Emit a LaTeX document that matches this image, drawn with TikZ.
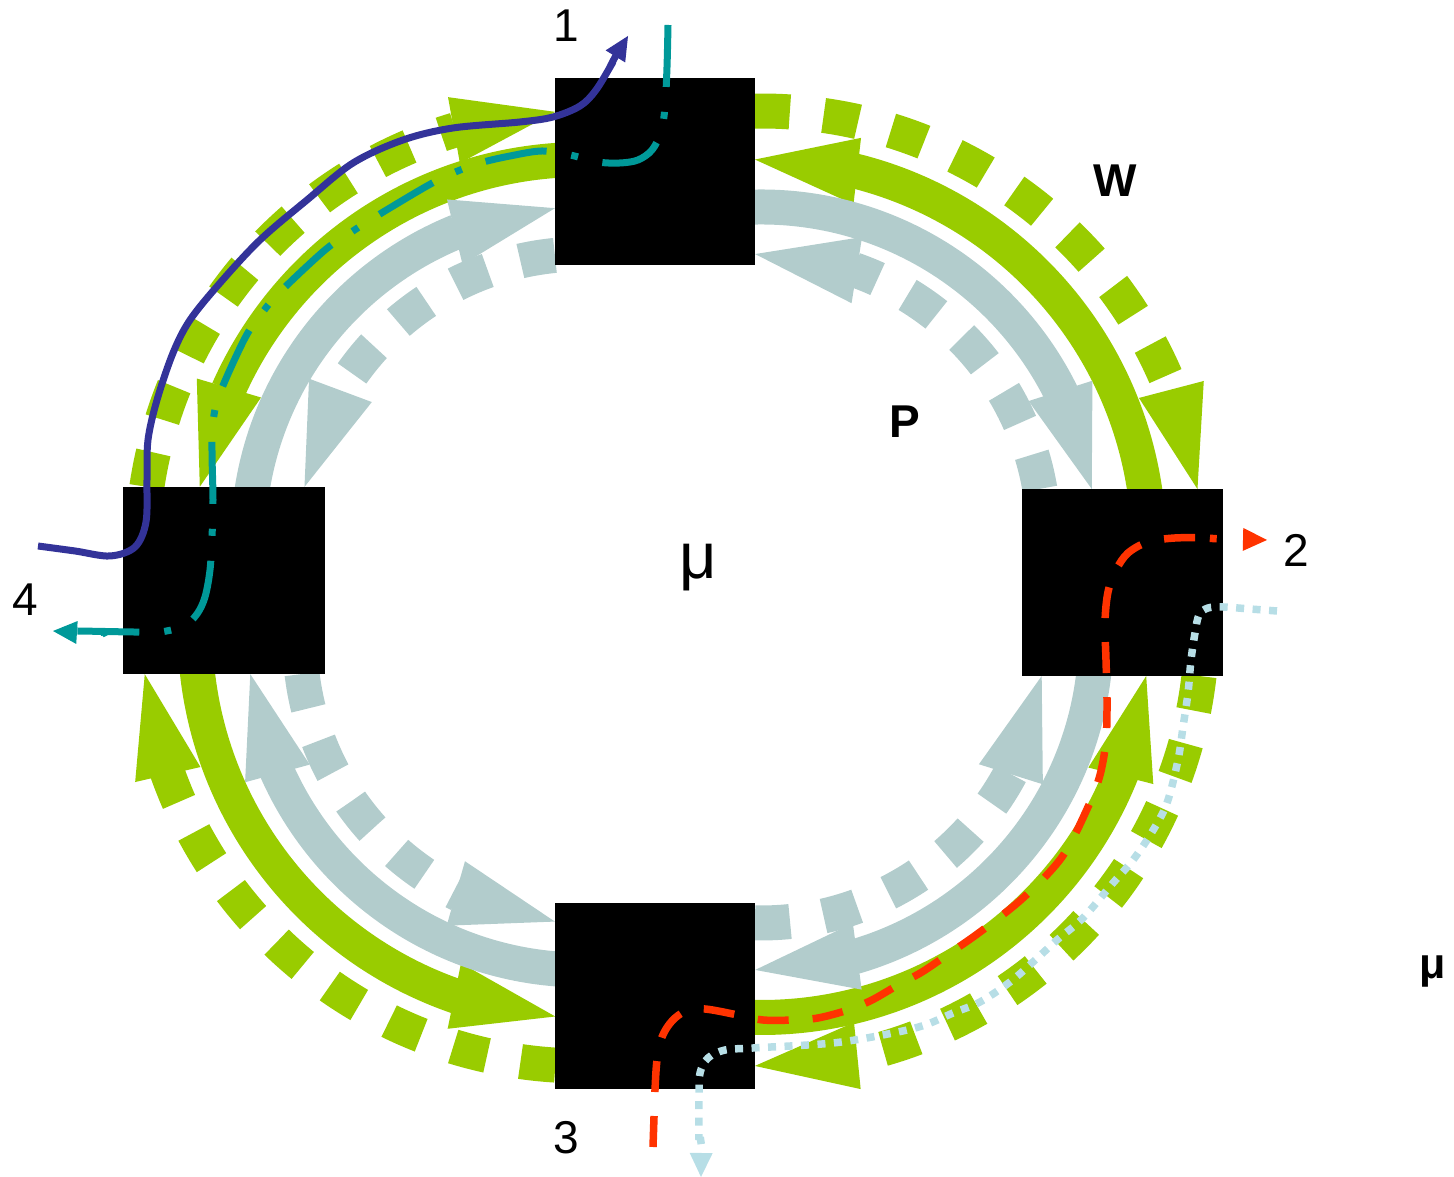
\documentclass[tikz,border=0pt]{standalone}
\usepackage{fontspec}
\setmainfont{Liberation Sans}
\usetikzlibrary{arrows.meta,bending,calc}
\definecolor{gcol}{RGB}{153,204,0}
\definecolor{pcol}{RGB}{178,204,204}
\definecolor{tealc}{RGB}{0,153,153}
\definecolor{navyc}{RGB}{51,51,153}
\definecolor{redc}{RGB}{255,51,0}
\definecolor{lbluec}{RGB}{183,222,230}
\newcommand\ringarc[5]{\draw[#1] ($(#2)+(#3:#5)$) arc[start angle=#3,end angle=#4,radius=#5];}
\begin{document}
\begin{tikzpicture}[x=1pt,y=1pt,
  bigtip/.style={-{Triangle[length=103pt,width=67pt,line width=0pt,flex]}},
  smalltip/.style={-{Triangle[length=24pt,width=23pt,line width=0pt]}},
  band/.style={line width=35pt},
  dotband/.style={line width=35pt,dash pattern=on 35pt off 34pt},
  gsol/.style={band,draw=gcol,bigtip},
  gdot/.style={dotband,draw=gcol,bigtip},
  psol/.style={band,draw=pcol,bigtip},
  pdot/.style={dotband,draw=pcol,bigtip},
  box/.style={fill=black,draw=none,inner sep=0pt},
  navyl/.style={draw=navyc,line width=7pt,smalltip},
  teall/.style={draw=tealc,line width=7pt,dash pattern=on 62pt off 25pt on 7pt off 25pt,smalltip},
  redl/.style={draw=redc,line width=7.5pt,dash pattern=on 31pt off 24pt,smalltip},
  lbluel/.style={draw=lbluec,line width=7.5pt,dash pattern=on 8pt off 8.5pt,smalltip},
  lbl/.style={font=\fontsize{46}{50}\selectfont,inner sep=0pt},
  lblb/.style={font=\bfseries\fontsize{46}{50}\selectfont,inner sep=0pt}]
\useasboundingbox (0,0) rectangle (1454,1177);
% top-right quadrant
\ringarc{gdot}{761,625}{90.8}{8.2}{441}
\ringarc{gsol}{761,629.5}{5}{90.9}{388}
\ringarc{psol}{761,635}{93}{9.1}{335}
\ringarc{pdot}{761,640}{9.8}{91.2}{283}
% top-left quadrant
\ringarc{gdot}{583,625}{171.5}{93.6}{441}
\ringarc{gsol}{583,629.5}{92}{171.0}{388}
\ringarc{psol}{583,635}{173}{94.8}{335}
\ringarc{pdot}{583,640}{95.7}{169.8}{283}
% bottom-right quadrant
\ringarc{gdot}{761,552}{-6.64}{-90.8}{441}
\ringarc{gsol}{761,547.5}{-93}{-6.88}{388}
\ringarc{psol}{761,542}{-4}{-91}{335}
\ringarc{pdot}{761,537}{-91.2}{-7.31}{283}
% bottom-left quadrant
\ringarc{gdot}{583,552}{266.4}{186.4}{441}
\ringarc{gsol}{583,547.5}{184}{265.9}{388}
\ringarc{psol}{583,542}{268}{186.7}{335}
\ringarc{pdot}{583,537}{186.9}{264.3}{283}
% boxes
\node[box,minimum width=200pt,minimum height=187pt] (n1) at (655,1005.5) {};
\node[box,minimum width=201pt,minimum height=187pt] (n2) at (1122.5,594.5) {};
\node[box,minimum width=200pt,minimum height=186pt] (n3) at (655,181) {};
\node[box,minimum width=202pt,minimum height=187pt] (n4) at (224,596.5) {};
% navy path
\coordinate (navyS) at (38,631);
\coordinate (navyE) at (628,1141);
\draw[navyl] plot[smooth,tension=0.55] coordinates {(navyS) (75,626) (110,621) (135,630) (146,655) (147,697) (148,737) (157,777) (173,824) (190,857) (220,894) (260,937) (307,977) (353,1014) (403,1037) (453,1049) (520,1055) (553,1060) (580,1071) (596,1087) (613,1115) (navyE)};
% teal path
\coordinate (tealS) at (668,1152);
\coordinate (tealE) at (53,546);
\draw[teall] plot[smooth,tension=0.55] coordinates {(tealS) (667,1110) (665,1070) (661,1045) (652,1027) (638,1017) (620,1014) (598,1015) (570,1022) (542,1026) (510,1021) (480,1014) (453,1004) (427,991) (375,960) (350,944) (325,927) (280,885) (262,864) (245,839) (220,784) (213,755) (212,725) (213,677) (212,640) (210,607) (205,580) (197,563) (184,551) (160,545) (133,545) (77,546) (tealE)};
% red path
\coordinate (redS) at (653,30);
\coordinate (redE) at (1267,637);
\draw[redl] plot[smooth,tension=0.55] coordinates {(redS) (654,60) (655,87) (657,117) (662,140) (672,156) (686,166) (705,168) (738,162) (763,157) (793,157) (818,159) (848,167) (872,177) (898,192) (922,205) (947,222) (980,245) (1023,279) (1062,320) (1088,370) (1100,402) (1106,437) (1107,477) (1106,517) (1105,555) (1108,585) (1116,607) (1128,624) (1148,635) (1175,639) (1212,639) (redE)};
% light blue path
\coordinate (lbS) at (1277,566);
\coordinate (lbE) at (701,0);
\draw[lbluel] plot[smooth,tension=0.55] coordinates {(lbS) (1250,568) (1223,570) (1208,569) (1199,562) (1195,544) (1191,517) (1188,484) (1183,450) (1178,417) (1167,374) (1152,345) (1133,317) (1113,294) (1083,259) (1057,237) (1033,215) (1010,195) (980,175) (953,164) (925,152) (893,144) (833,134) (753,129) (725,127) (708,119) (700,104) (699,80) (699,37) (lbE)};
% labels
\node[lbl] (l1) at (566,1151) {1};
\node[lbl] (l2) at (1296,627) {2};
\node[lbl] (l3) at (566,39) {3};
\node[lbl] (l4) at (25,577) {4};
\node[lblb] (lw) at (1115,996) {W};
\node[lblb] (lp) at (905,755) {P};
\node[font=\fontsize{65}{70}\selectfont,inner sep=0pt] (mu1) at (698.5,609.5) {μ};
\node[font=\bfseries\fontsize{43}{48}\selectfont,inner sep=0pt] (mu2) at (1433,205) {μ};
\end{tikzpicture}
\end{document}
